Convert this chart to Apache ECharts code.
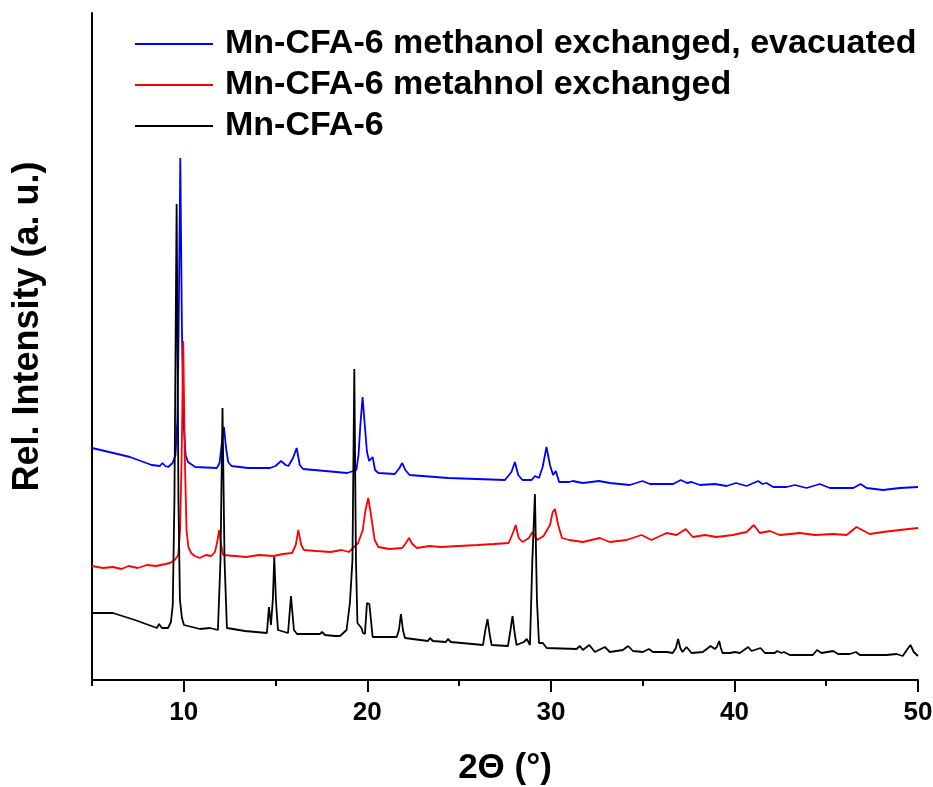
<!DOCTYPE html>
<html>
<head>
<meta charset="utf-8">
<script src="https://cdn.jsdelivr.net/npm/echarts@6/dist/echarts.min.js"></script>
<style>
  html, body { margin: 0; padding: 0; background: #ffffff; }
  #chart { width: 933px; height: 787px; }
</style>
</head>
<body>
<div id="chart"></div>
<script>
// Powder XRD patterns, [2θ (°), relative intensity (a.u., stacked with offsets)]
const seriesNames = [
  'Mn-CFA-6 methanol exchanged, evacuated',
  'Mn-CFA-6 metahnol exchanged',
  'Mn-CFA-6'
];

const evacuatedPattern = [
  [5.00,232],[6.16,227],[7.07,223],[8.25,215],[8.70,214],[8.84,217],[8.99,214],[9.15,213],
  [9.39,217],[9.55,225],[9.65,260],[9.72,350],[9.81,522],[9.90,350],[9.98,260],[10.10,225],[10.23,218],
  [10.62,213],[11.80,212],[11.95,217],[12.06,235],[12.19,253],[12.30,232],[12.42,218],[12.60,214],[13.50,212],[14.70,212],
  [15.00,214],[15.30,219],[15.38,221],[15.55,215],[15.70,214],[15.95,222],[16.15,232],[16.32,215],
  [16.50,211],[18.90,207],[19.40,210],[19.52,225],[19.62,255],[19.74,283],[19.86,255],[19.98,228],[20.10,219],[20.20,221],
  [20.29,223],[20.42,210],[20.60,207],[21.50,206],[21.75,212],[21.90,217],[22.07,210],[22.30,205],
  [24.40,202],[27.50,200],[27.85,208],[28.04,218],[28.22,205],[28.45,200],[28.95,200],[29.13,204],
  [29.35,202],[29.55,213],[29.76,233],[29.95,215],[30.12,205],[30.27,209],[30.45,198],[31.00,198],
  [31.18,199],[31.74,197],[32.62,199],[33.21,197],[34.30,195],[34.99,199],[35.39,196],[36.66,196],
  [37.08,200],[37.42,197],[37.66,198],[38.12,195],[38.93,196],[39.57,194],[40.08,197],[40.66,194],
  [41.29,199],[41.53,196],[41.75,197],[42.11,193],[42.84,193],[43.29,195],[43.93,192],[44.65,196],
  [45.20,192],[46.47,192],[46.87,196],[47.20,192],[48.10,190],[49.01,192],[50.00,193]
];

const exchangedPattern = [
  [5.00,114],[5.60,112],[6.14,113],[6.60,111],[7.00,114],[7.50,112],[7.99,115],[8.50,114],
  [9.00,116],[9.24,117],[9.51,120],[9.70,125],[9.80,150],[9.88,220],[9.97,339],[10.06,220],[10.15,150],
  [10.25,133],[10.40,127],[10.60,124],[10.88,122],[11.20,125],[11.50,124],[11.70,128],[11.82,138],[11.93,150],
  [12.03,135],[12.15,125],[12.80,124],[13.40,123],[14.10,125],[14.90,124],[15.40,126],[15.90,127],
  [16.10,135],[16.24,150],[16.40,135],[16.55,130],[17.20,129],[18.00,128],[18.60,130],[19.00,128],
  [19.50,137],[19.75,150],[19.90,170],[20.05,182],[20.20,165],[20.40,140],[20.60,133],[21.20,131],
  [21.90,132],[22.10,137],[22.27,142],[22.45,136],[22.70,132],[23.40,134],[24.00,133],[25.00,134],
  [26.00,135],[26.90,136],[27.70,137],[27.95,148],[28.08,155],[28.25,142],[28.45,138],[28.80,142],
  [29.00,148],[29.25,140],[29.60,144],[29.95,155],[30.10,168],[30.22,171],[30.40,155],[30.60,142],
  [31.00,140],[31.74,138],[32.67,142],[33.21,138],[34.12,140],[34.94,145],[35.48,140],[36.30,147],
  [36.85,145],[37.35,151],[37.73,143],[38.40,145],[39.02,143],[39.91,145],[40.66,148],[41.06,155],
  [41.38,147],[41.93,149],[42.47,145],[43.56,147],[44.40,145],[45.38,146],[46.11,145],[46.65,153],
  [47.37,146],[48.10,148],[49.00,150],[50.00,152]
];

const pristinePattern = [
  [5.00,67],[6.14,67],[7.34,60],[8.54,52],[8.65,56],[8.81,52],[9.14,52],[9.30,58],[9.40,75],
  [9.49,180],[9.61,476],[9.71,180],[9.79,80],[9.90,62],[10.01,55],[10.88,51],[11.43,52],[11.86,50],
  [12.00,120],[12.11,272],[12.22,120],[12.35,52],[13.33,49],[14.53,47],[14.64,73],[14.75,55],
  [14.85,80],[14.93,123],[15.02,80],[15.13,50],[15.68,47],[15.84,84],[16.00,50],[16.17,46],
  [17.42,46],[17.53,48],[17.69,45],[18.24,44],[18.34,46],[18.51,44],[18.87,50],[19.05,77],
  [19.19,120],[19.29,311],[19.38,120],[19.46,57],[19.68,52],[19.76,47],[19.87,46],[19.98,77],
  [20.11,76],[20.29,43],[21.60,43],[21.72,50],[21.83,66],[21.94,50],[22.05,42],[23.30,39],
  [23.41,42],[23.57,39],[24.28,38],[24.39,41],[24.55,38],[26.30,35],[26.43,50],[26.55,61],
  [26.67,45],[26.77,35],[27.66,34],[27.80,50],[27.91,64],[28.04,45],[28.13,35],[28.53,38],
  [28.69,41],[28.86,35],[28.99,120],[29.13,186],[29.24,80],[29.35,37],[29.56,37],[29.77,32],
  [31.40,31],[31.58,34],[31.74,30],[32.09,35],[32.40,28],[32.94,33],[33.21,28],[33.92,30],
  [34.21,34],[34.47,29],[35.01,28],[35.34,31],[35.56,28],[36.32,28],[36.40,30],[36.64,27],
  [36.81,32],[36.93,41],[37.05,32],[37.17,28],[37.39,33],[37.66,27],[38.28,28],[38.70,34],
  [38.93,31],[39.04,33],[39.17,39],[39.26,32],[39.35,27],[39.75,27],[40.02,28],[40.29,27],
  [40.75,33],[40.93,29],[41.42,32],[41.66,27],[42.20,27],[42.33,29],[42.56,27],[42.69,28],
  [43.02,25],[44.27,25],[44.50,30],[44.74,27],[45.38,29],[45.65,26],[46.29,26],[46.62,28],
  [46.83,25],[48.28,25],[48.83,26],[49.17,24],[49.39,30],[49.59,35],[49.77,28],[50.00,24]
];

const majorTicks = [10, 20, 30, 40, 50];
const minorTicks = [5, 15, 25, 35, 45];
const lineColors = ['#0000ff', '#ff0000', '#000000'];

const font = '"Liberation Sans", Arial, sans-serif';
const chart = echarts.init(document.getElementById('chart'), null, { renderer: 'canvas' });

const patterns = [evacuatedPattern, exchangedPattern, pristinePattern];

chart.setOption({
  animation: false,
  backgroundColor: '#ffffff',
  grid: { left: 92, right: 15, top: 13, bottom: 107, containLabel: false, outerBoundsMode: 'none' },
  legend: {
    orient: 'vertical',
    left: 130,
    top: 21,
    icon: 'rect',
    itemWidth: 78,
    itemHeight: 2,
    itemGap: 5,
    data: seriesNames,
    textStyle: {
      fontFamily: font, fontWeight: 'bold', fontSize: 34, color: '#000',
      lineHeight: 36, padding: [0, 0, 0, 7]
    }
  },
  xAxis: [
    {
      type: 'value', min: 5, max: 50,
      axisLine: { show: true, onZero: false, lineStyle: { color: '#000', width: 2 } },
      axisTick: { show: true, inside: false, length: 12, customValues: majorTicks,
                  lineStyle: { color: '#000', width: 2 } },
      axisLabel: { show: true, customValues: majorTicks, margin: 20,
                   fontFamily: font, fontWeight: 'bold', fontSize: 26, color: '#000' },
      splitLine: { show: false },
      name: '2Θ (°)', nameLocation: 'middle', nameGap: 71,
      nameTextStyle: { fontFamily: font, fontWeight: 'bold', fontSize: 35, color: '#000' }
    },
    {
      type: 'value', min: 5, max: 50, position: 'bottom',
      axisLine: { show: false },
      axisTick: { show: true, inside: false, length: 6, customValues: minorTicks,
                  lineStyle: { color: '#000', width: 2 } },
      axisLabel: { show: false },
      splitLine: { show: false }
    }
  ],
  yAxis: {
    type: 'value', min: 0, max: 667,
    axisLine: { show: true, lineStyle: { color: '#000', width: 2 } },
    axisTick: { show: false },
    axisLabel: { show: false },
    splitLine: { show: false },
    name: 'Rel. Intensity (a. u.)', nameLocation: 'middle', nameRotate: 90, nameGap: 46,
    nameTextStyle: { fontFamily: font, fontWeight: 'bold', fontSize: 36, color: '#000',
                     padding: [0, 0, 0, 40] }
  },
  series: patterns.map((data, i) => ({
    name: seriesNames[i],
    type: 'line',
    xAxisIndex: 0,
    data: data,
    symbol: 'none',
    smooth: false,
    lineStyle: { color: lineColors[i], width: 1.8 },
    itemStyle: { color: lineColors[i] }
  }))
});
</script>
</body>
</html>
